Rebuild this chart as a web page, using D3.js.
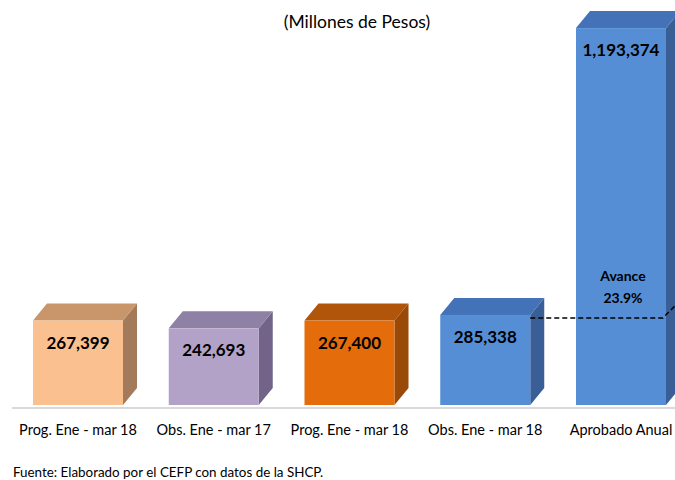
<!DOCTYPE html>
<html>
<head>
<meta charset="utf-8">
<script src="https://cdn.jsdelivr.net/npm/d3@7"></script>
<style>
  body { margin: 0; background: #fff; }
  text { font-family: Lato, "Open Sans", sans-serif; }
</style>
</head>
<body>
<svg id="chart"></svg>
<script>
'use strict';

const categories = ['Prog. Ene - mar 18', 'Obs. Ene - mar 17', 'Prog. Ene - mar 18', 'Obs. Ene - mar 18', 'Aprobado Anual'];
const values = [267399, 242693, 267400, 285338, 1193374];
const avance = 23.9;

// front / top / side per bar
const fronts = ['#FBC08F', '#B3A2C7', '#E46C0A', '#558ED5', '#558ED5'];
const tops = ['#C9956B', '#8F80A5', '#B0550A', '#4472B8', '#4472B8'];
const sides = ['#A47B5A', '#716488', '#9A4A08', '#3A5F96', '#3A5F96'];

const width = 675;
const height = 480;
const depthX = 14;
const depthY = 17;

const svg = d3.select('#chart')
  .attr('width', width)
  .attr('height', height);

const xScale = d3.scaleBand()
  .domain(d3.range(categories.length))
  .range([33, 666])
  .paddingInner(0.337)
  .paddingOuter(0);

const yScale = d3.scaleLinear()
  .domain([0, 1200000])
  .range([405, 26]);

const fmt = d3.format(',');

// title
svg.append('text')
  .attr('x', 357)
  .attr('y', 28)
  .attr('text-anchor', 'middle')
  .attr('font-size', '17.5px')
  .attr('fill', '#000')
  .text('(Millones de Pesos)');

// baseline
svg.append('line')
  .attr('x1', 12).attr('x2', 675)
  .attr('y1', 408).attr('y2', 408)
  .attr('stroke', '#D9D9D9')
  .attr('stroke-width', 2);

// bars
const bars = svg.selectAll('g.bar')
  .data(values)
  .enter()
  .append('g')
  .attr('class', 'bar');

const bw = xScale.bandwidth();
const base = yScale(0);

bars.append('path')
  .attr('d', (d, i) => {
    const x1 = xScale(i) + bw, y = yScale(d);
    return `M${x1},${y} L${x1 + depthX},${y - depthY} L${x1 + depthX},${base - depthY} L${x1},${base} Z`;
  })
  .attr('fill', (d, i) => sides[i]);

bars.append('path')
  .attr('d', (d, i) => {
    const x0 = xScale(i), x1 = x0 + bw, y = yScale(d);
    return `M${x0},${y} L${x0 + depthX},${y - depthY} L${x1 + depthX},${y - depthY} L${x1},${y} Z`;
  })
  .attr('fill', (d, i) => tops[i]);

bars.append('rect')
  .attr('x', (d, i) => xScale(i))
  .attr('y', (d) => yScale(d))
  .attr('width', bw)
  .attr('height', (d) => base - yScale(d))
  .attr('fill', (d, i) => fronts[i]);

bars.append('text')
  .attr('x', (d, i) => xScale(i) + bw / 2)
  .attr('y', (d) => yScale(d) + 28)
  .attr('text-anchor', 'middle')
  .attr('font-size', '17px')
  .attr('font-weight', 'bold')
  .attr('fill', '#000')
  .text((d) => fmt(d));

// dashed line: level of Obs. on the annual bar
const yLine = yScale(values[3]) + 3;
const xA = xScale(3) + bw;
const xB = xScale(4) + bw;
svg.append('path')
  .attr('d', `M${xA},${yLine} L${xB - 3},${yLine} L${xB + depthX},${yLine - depthY}`)
  .attr('fill', 'none')
  .attr('stroke', '#000')
  .attr('stroke-width', 1.5)
  .attr('stroke-dasharray', '5,3');

const avG = svg.append('g')
  .attr('font-size', '14px')
  .attr('font-weight', 'bold')
  .attr('text-anchor', 'middle');
avG.append('text')
  .attr('x', xScale(4) + bw / 2 + 2)
  .attr('y', 281)
  .text('Avance');
avG.append('text')
  .attr('x', xScale(4) + bw / 2 + 2)
  .attr('y', 303)
  .text(avance + '%');

// category labels
const xAxis = d3.axisBottom(xScale)
  .tickSize(0)
  .tickPadding(0)
  .tickFormat((i) => categories[i]);

const axisG = svg.append('g')
  .attr('transform', 'translate(0,425)')
  .call(xAxis);
axisG.select('.domain').remove();
axisG.selectAll('text')
  .attr('font-size', '14.5px')
  .attr('font-family', 'Lato, "Open Sans", sans-serif')
  .attr('fill', '#000');

// source
svg.append('text')
  .attr('x', 13)
  .attr('y', 477)
  .attr('font-size', '13.4px')
  .attr('fill', '#000')
  .text('Fuente: Elaborado por el CEFP con datos de la SHCP.');
</script>
</body>
</html>
